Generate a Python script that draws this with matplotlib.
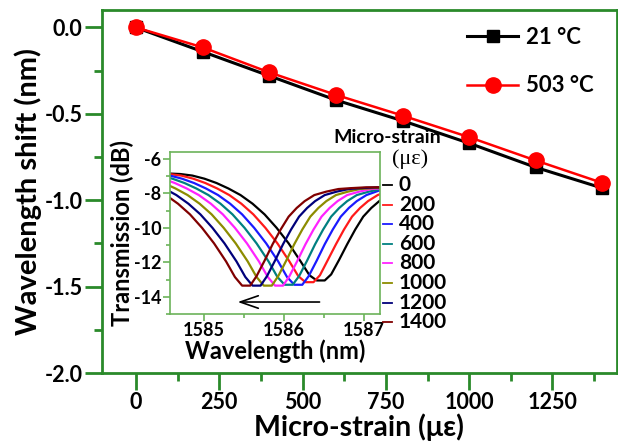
import matplotlib
matplotlib.use("Agg")
import matplotlib.pyplot as plt
from matplotlib.ticker import MultipleLocator

plt.rcParams['font.family'] = ['Lato', 'DejaVu Sans']
plt.rcParams['font.weight'] = 'bold'
plt.rcParams['axes.unicode_minus'] = False

# main panel: dip wavelength shift vs applied strain
strain = [0, 200, 400, 600, 800, 1000, 1200, 1400]
shift_21c = [0, -0.14, -0.28, -0.42, -0.54, -0.67, -0.81, -0.93]
shift_503c = [0, -0.115, -0.26, -0.39, -0.51, -0.635, -0.77, -0.90]

# inset: transmission spectra at each strain level
spec_labels = ['0', '200', '400', '600', '800', '1000', '1200', '1400']
spec_colors = ['#000000', '#ff1a1a', '#1a1aff', '#008080', '#ff22ff', '#8c8c00', '#00007a', '#800000']
spec_wl = [
    [1584.56, 1584.71, 1584.86, 1585.01, 1585.16, 1585.31, 1585.46, 1585.61, 1585.76, 1585.91, 1586.06, 1586.21,
     1586.32, 1586.41, 1586.51, 1586.59, 1586.69, 1586.79, 1586.89, 1586.99, 1587.09, 1587.19, 1587.31],
    [1584.42, 1584.57, 1584.72, 1584.87, 1585.02, 1585.17, 1585.32, 1585.47, 1585.62, 1585.77, 1585.92, 1586.07,
     1586.18, 1586.27, 1586.37, 1586.45, 1586.55, 1586.65, 1586.75, 1586.85, 1586.95, 1587.05, 1587.17, 1587.32],
    [1584.43, 1584.58, 1584.73, 1584.88, 1585.03, 1585.18, 1585.33, 1585.48, 1585.63, 1585.78, 1585.93, 1586.04,
     1586.13, 1586.23, 1586.31, 1586.41, 1586.51, 1586.61, 1586.71, 1586.81, 1586.91, 1587.03, 1587.18, 1587.33],
    [1584.46, 1584.61, 1584.76, 1584.91, 1585.06, 1585.21, 1585.36, 1585.51, 1585.66, 1585.81, 1585.92, 1586.01,
     1586.11, 1586.19, 1586.29, 1586.39, 1586.49, 1586.59, 1586.69, 1586.79, 1586.91, 1587.06, 1587.21, 1587.36],
    [1584.49, 1584.64, 1584.79, 1584.94, 1585.09, 1585.24, 1585.39, 1585.54, 1585.69, 1585.80, 1585.89, 1585.99,
     1586.07, 1586.17, 1586.27, 1586.37, 1586.47, 1586.57, 1586.67, 1586.79, 1586.94, 1587.09, 1587.24, 1587.44],
    [1584.50, 1584.65, 1584.80, 1584.95, 1585.10, 1585.25, 1585.40, 1585.55, 1585.66, 1585.75, 1585.85, 1585.93,
     1586.03, 1586.13, 1586.23, 1586.33, 1586.43, 1586.53, 1586.65, 1586.80, 1586.95, 1587.10, 1587.30],
    [1584.51, 1584.66, 1584.81, 1584.96, 1585.11, 1585.26, 1585.41, 1585.52, 1585.61, 1585.71, 1585.79, 1585.89,
     1585.99, 1586.09, 1586.19, 1586.29, 1586.39, 1586.51, 1586.66, 1586.81, 1586.96, 1587.16, 1587.36],
    [1584.53, 1584.68, 1584.83, 1584.98, 1585.13, 1585.28, 1585.39, 1585.48, 1585.58, 1585.66, 1585.76, 1585.86,
     1585.96, 1586.06, 1586.16, 1586.26, 1586.38, 1586.53, 1586.68, 1586.83, 1587.03, 1587.23],
]
spec_db = [
    [-6.85, -6.88, -6.97, -7.15, -7.4, -7.72, -8.1, -8.6, -9.22, -10.0, -10.9, -11.95,
     -12.75, -13.05, -13.05, -12.7, -11.85, -10.95, -10.1, -9.35, -8.85, -8.45, -8.1],
    [-6.85, -6.88, -6.97, -7.15, -7.4, -7.72, -8.1, -8.6, -9.22, -10.0, -10.9, -11.95,
     -12.8, -13.15, -13.15, -12.75, -11.85, -10.95, -10.1, -9.35, -8.85, -8.45, -8.1, -7.85],
    [-6.88, -6.97, -7.15, -7.4, -7.72, -8.1, -8.6, -9.22, -10.0, -10.9, -11.95, -12.85,
     -13.3, -13.3, -12.8, -11.9, -10.95, -10.1, -9.35, -8.85, -8.45, -8.1, -7.85, -7.75],
    [-6.97, -7.15, -7.4, -7.72, -8.1, -8.6, -9.22, -10.0, -10.9, -11.95, -12.85, -13.3,
     -13.3, -12.8, -11.9, -10.95, -10.1, -9.35, -8.85, -8.45, -8.1, -7.9, -7.75, -7.7],
    [-7.15, -7.4, -7.72, -8.1, -8.6, -9.22, -10.0, -10.9, -11.95, -12.85, -13.35, -13.35,
     -12.8, -11.9, -10.95, -10.1, -9.35, -8.85, -8.45, -8.1, -7.9, -7.75, -7.7, -7.7],
    [-7.4, -7.72, -8.1, -8.6, -9.22, -10.0, -10.9, -11.95, -12.85, -13.35, -13.35, -12.8,
     -11.9, -10.95, -10.1, -9.35, -8.85, -8.45, -8.1, -7.9, -7.75, -7.7, -7.65],
    [-7.72, -8.1, -8.6, -9.22, -10.0, -10.9, -11.95, -12.85, -13.35, -13.35, -12.8, -11.9,
     -10.95, -10.1, -9.35, -8.85, -8.45, -8.1, -7.9, -7.75, -7.7, -7.65, -7.65],
    [-8.1, -8.6, -9.22, -10.0, -10.9, -11.95, -12.85, -13.35, -13.35, -12.8, -11.9, -10.95,
     -10.1, -9.35, -8.85, -8.45, -8.1, -7.9, -7.75, -7.7, -7.65, -7.65],
]

green = '#2a8a2a'
inset_green = '#6cb35a'
serif = ['Liberation Serif', 'DejaVu Serif']

fig = plt.figure(figsize=(6.18, 4.43), dpi=100)
ax = fig.add_axes([0.165, 0.158, 0.833, 0.819])

ax.plot(strain, shift_21c, color='black', lw=2.2, marker='s', ms=9, label='21 °C', zorder=3)
ax.plot(strain, shift_503c, color='#ff0000', lw=1.8, marker='o', ms=11, label='503 °C', zorder=4)

ax.set_xlim(-102, 1443)
ax.set_ylim(-2.0, 0.1)
ax.xaxis.set_major_locator(MultipleLocator(250))
ax.xaxis.set_minor_locator(MultipleLocator(125))
ax.yaxis.set_major_locator(MultipleLocator(0.5))
ax.yaxis.set_minor_locator(MultipleLocator(0.25))
ax.yaxis.set_major_formatter(lambda v, p: f'{v:.1f}')
for s in ax.spines.values():
    s.set_color(green)
    s.set_linewidth(2)
ax.tick_params(which='major', direction='out', length=12, width=2, color=green, labelsize=15.5, pad=2)
ax.tick_params(which='minor', direction='out', length=6, width=2, color=green)
ax.set_xlabel('Micro-strain (με)', fontsize=20.5, fontweight='bold', labelpad=0)
ax.set_ylabel('Wavelength shift (nm)', fontsize=21, fontweight='bold', labelpad=2)

ax.legend(loc='upper right', bbox_to_anchor=(0.955, 0.955), frameon=False, fontsize=16,
          handlelength=2.3, labelspacing=1.25, handletextpad=0.35, borderaxespad=0, borderpad=0)

# inset
axi = fig.add_axes([0.275, 0.291, 0.340, 0.366])
for wl, db, c in zip(spec_wl, spec_db, spec_colors):
    axi.plot(wl, db, color=c, lw=1.6)

axi.set_xlim(1584.58, 1587.2)
axi.set_ylim(-15, -5.6)
axi.xaxis.set_major_locator(MultipleLocator(1))
axi.xaxis.set_minor_locator(MultipleLocator(0.5))
axi.yaxis.set_major_locator(MultipleLocator(2))
axi.yaxis.set_minor_locator(MultipleLocator(1))
for s in axi.spines.values():
    s.set_color(inset_green)
    s.set_linewidth(1.2)
axi.tick_params(which='major', direction='out', length=5, width=1.2, color=inset_green, labelsize=13, pad=1)
axi.tick_params(which='minor', direction='out', length=3, width=1.2, color=inset_green)
axi.set_xlabel('Wavelength (nm)', fontsize=17, fontweight='bold', labelpad=0)
axi.set_ylabel('Transmission (dB)', fontsize=17, fontweight='bold', labelpad=0)

axi.annotate('', xy=(1585.39, -14.3), xytext=(1586.48, -14.3),
             arrowprops=dict(arrowstyle='->,head_length=1.3,head_width=0.45', color='black', lw=1.2))

# strain key beside the inset
axi.text(1.035, 1.09, 'Micro-strain', transform=axi.transAxes, ha='center', va='center',
         fontsize=14, fontweight='bold')
axi.text(1.145, 0.955, '(με)', transform=axi.transAxes, ha='center', va='center',
         fontsize=16, fontweight='normal', family=serif)
row_h = 19.6 / 162
for i, (lab, c) in enumerate(zip(spec_labels, spec_colors)):
    y = (314 - 185) / 162 - i * row_h
    axi.plot([1.014, 1.057], [y, y], transform=axi.transAxes, color=c, lw=1.3, clip_on=False)
    axi.text(1.09, y, lab, transform=axi.transAxes, ha='left', va='center', fontsize=15,
             fontweight='bold')

fig.savefig('out.png', dpi=100)
